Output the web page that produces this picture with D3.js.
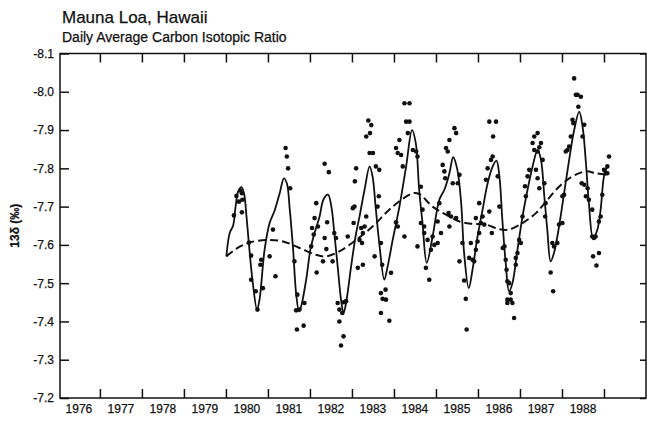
<!DOCTYPE html>
<html>
<head>
<meta charset="utf-8">
<script src="https://cdn.jsdelivr.net/npm/d3@7"></script>
<style>
    body { margin: 0; background: #fff; }
    text { font-family: "Liberation Sans", Arial, Helvetica, sans-serif; fill: #111; stroke: #111; stroke-width: 0.25; }
</style>
</head>
<body>
<div id="chart"></div>
<script>

// tick labels / positions
const yearLabels = [1976, 1977, 1978, 1979, 1980, 1981, 1982, 1983, 1984, 1985, 1986, 1987, 1988];
const yearTicks = [1977, 1978, 1979, 1980, 1981, 1982, 1983, 1984, 1985, 1986, 1987, 1988, 1989];
const deltaTicks = [-8.1, -8.0, -7.9, -7.8, -7.7, -7.6, -7.5, -7.4, -7.3, -7.2];

// solid seasonal fit [year, d13C]
const seasonalFit = [
    [1980.01,-7.570],[1980.09,-7.631],[1980.17,-7.650],[1980.23,-7.700],[1980.29,-7.739],[1980.37,-7.751],
    [1980.43,-7.735],[1980.49,-7.674],[1980.56,-7.587],[1980.64,-7.500],[1980.74,-7.431],[1980.80,-7.457],
    [1980.92,-7.587],[1981.04,-7.657],[1981.16,-7.690],[1981.28,-7.735],[1981.38,-7.774],[1981.45,-7.761],
    [1981.52,-7.692],[1981.60,-7.587],[1981.67,-7.474],[1981.74,-7.426],[1981.79,-7.439],[1981.91,-7.509],
    [1982.01,-7.587],[1982.11,-7.631],[1982.23,-7.674],[1982.32,-7.718],[1982.43,-7.731],[1982.51,-7.700],
    [1982.58,-7.631],[1982.66,-7.544],[1982.74,-7.457],[1982.80,-7.422],[1982.86,-7.448],[1982.98,-7.544],
    [1983.10,-7.631],[1983.18,-7.674],[1983.30,-7.744],[1983.42,-7.805],[1983.49,-7.779],[1983.57,-7.692],
    [1983.65,-7.605],[1983.77,-7.509],[1983.85,-7.544],[1983.97,-7.613],[1984.13,-7.700],[1984.29,-7.805],
    [1984.43,-7.900],[1984.52,-7.866],[1984.60,-7.744],[1984.68,-7.657],[1984.78,-7.553],[1984.92,-7.622],
    [1985.08,-7.718],[1985.20,-7.744],[1985.32,-7.787],[1985.41,-7.829],[1985.51,-7.796],[1985.60,-7.709],
    [1985.67,-7.579],[1985.78,-7.487],[1985.87,-7.535],[1985.99,-7.622],[1986.11,-7.692],[1986.23,-7.761],
    [1986.35,-7.805],[1986.44,-7.820],[1986.51,-7.779],[1986.58,-7.666],[1986.66,-7.553],[1986.74,-7.479],
    [1986.82,-7.500],[1986.94,-7.587],[1987.06,-7.674],[1987.18,-7.744],[1987.30,-7.805],[1987.42,-7.848],
    [1987.50,-7.822],[1987.58,-7.726],[1987.65,-7.640],[1987.73,-7.557],[1987.81,-7.579],[1987.93,-7.648],
    [1988.05,-7.735],[1988.17,-7.822],[1988.29,-7.900],[1988.41,-7.948],[1988.49,-7.909],[1988.57,-7.814],
    [1988.64,-7.709],[1988.74,-7.618],[1988.84,-7.639],[1988.92,-7.692],[1989.00,-7.779],[1989.08,-7.805]
];

// dashed long term trend
const trendFit = [
    [1980.01,-7.570],[1980.25,-7.590],[1980.56,-7.606],[1980.96,-7.613],[1981.36,-7.609],[1981.75,-7.592],
    [1982.15,-7.574],[1982.39,-7.570],[1982.70,-7.583],[1983.10,-7.613],[1983.49,-7.648],[1983.97,-7.700],
    [1984.45,-7.735],[1984.60,-7.733],[1984.92,-7.700],[1985.24,-7.679],[1985.56,-7.661],[1985.87,-7.655],
    [1986.19,-7.653],[1986.51,-7.641],[1986.74,-7.640],[1987.06,-7.657],[1987.38,-7.683],[1987.62,-7.713],
    [1987.93,-7.752],[1988.25,-7.779],[1988.57,-7.792],[1988.81,-7.787],[1989.04,-7.783]
];

// daily averages
const dailyMeans = [
    [1980.19,-7.677],[1980.25,-7.728],[1980.34,-7.742],[1980.38,-7.735],[1980.31,-7.713],[1980.39,-7.718],
    [1980.38,-7.685],[1980.55,-7.606],[1980.60,-7.572],[1980.60,-7.509],[1980.71,-7.479],[1980.75,-7.431],
    [1980.84,-7.561],[1980.88,-7.487],[1980.82,-7.548],[1981.04,-7.570],[1981.12,-7.640],[1981.18,-7.518],
    [1981.42,-7.853],[1981.45,-7.831],[1981.48,-7.800],[1981.53,-7.748],[1981.63,-7.557],[1981.70,-7.470],
    [1981.67,-7.429],[1981.75,-7.431],[1981.87,-7.448],[1981.69,-7.379],[1981.85,-7.389],[1982.03,-7.596],
    [1982.05,-7.644],[1982.09,-7.627],[1982.11,-7.670],[1982.15,-7.709],[1982.16,-7.528],[1982.19,-7.648],
    [1982.31,-7.557],[1982.35,-7.812],[1982.45,-7.790],[1982.35,-7.618],[1982.39,-7.589],[1982.41,-7.659],
    [1982.58,-7.631],[1982.62,-7.618],[1982.54,-7.557],[1982.66,-7.448],[1982.70,-7.431],[1982.77,-7.422],
    [1982.86,-7.453],[1982.80,-7.450],[1982.70,-7.400],[1982.80,-7.361],[1982.74,-7.337],[1982.90,-7.622],
    [1983.02,-7.696],[1983.06,-7.700],[1983.07,-7.766],[1983.10,-7.800],[1983.04,-7.657],[1983.14,-7.540],
    [1983.26,-7.548],[1983.18,-7.613],[1983.22,-7.644],[1983.26,-7.631],[1983.24,-7.605],[1983.30,-7.648],
    [1983.34,-7.674],[1983.34,-7.883],[1983.39,-7.925],[1983.46,-7.913],[1983.43,-7.892],[1983.50,-7.840],
    [1983.42,-7.840],[1983.57,-7.805],[1983.65,-7.796],[1983.64,-7.727],[1983.61,-7.700],[1983.54,-7.570],
    [1983.69,-7.605],[1983.72,-7.548],[1983.93,-7.527],[1983.69,-7.474],[1983.73,-7.459],[1983.80,-7.483],
    [1983.81,-7.457],[1983.69,-7.422],[1983.89,-7.402],[1984.05,-7.853],[1984.09,-7.840],[1984.13,-7.874],
    [1984.17,-7.835],[1984.21,-7.805],[1984.09,-7.648],[1984.05,-7.659],[1984.25,-7.622],[1984.25,-7.970],
    [1984.37,-7.970],[1984.29,-7.922],[1984.37,-7.922],[1984.33,-7.892],[1984.45,-7.848],[1984.53,-7.844],
    [1984.56,-7.831],[1984.56,-7.596],[1984.64,-7.752],[1984.68,-7.692],[1984.64,-7.657],[1984.72,-7.648],
    [1984.80,-7.613],[1984.76,-7.540],[1984.84,-7.509],[1984.92,-7.622],[1984.88,-7.587],[1984.72,-7.631],
    [1984.96,-7.600],[1985.04,-7.605],[1985.04,-7.661],[1985.12,-7.631],[1985.08,-7.709],[1985.16,-7.809],
    [1985.20,-7.792],[1985.22,-7.774],[1985.24,-7.853],[1985.28,-7.844],[1985.32,-7.874],[1985.44,-7.905],
    [1985.48,-7.892],[1985.40,-7.761],[1985.52,-7.761],[1985.56,-7.783],[1985.30,-7.683],[1985.36,-7.674],
    [1985.32,-7.648],[1985.48,-7.670],[1985.56,-7.557],[1985.63,-7.605],[1985.67,-7.507],[1985.71,-7.459],
    [1985.73,-7.379],[1985.79,-7.566],[1985.83,-7.605],[1985.87,-7.561],[1985.91,-7.557],[1985.95,-7.587],
    [1985.99,-7.609],[1986.03,-7.631],[1986.07,-7.657],[1986.11,-7.674],[1985.95,-7.670],[1986.15,-7.653],
    [1986.03,-7.709],[1986.19,-7.770],[1986.23,-7.800],[1986.27,-7.922],[1986.43,-7.922],[1986.36,-7.883],
    [1986.31,-7.822],[1986.35,-7.831],[1986.47,-7.779],[1986.51,-7.700],[1986.33,-7.631],[1986.27,-7.687],
    [1986.59,-7.592],[1986.63,-7.596],[1986.66,-7.561],[1986.68,-7.535],[1986.70,-7.505],[1986.74,-7.500],
    [1986.78,-7.474],[1986.70,-7.457],[1986.78,-7.457],[1986.70,-7.448],[1986.82,-7.448],[1986.86,-7.409],
    [1986.90,-7.566],[1986.94,-7.579],[1986.90,-7.548],[1986.98,-7.613],[1987.02,-7.605],[1987.06,-7.674],
    [1987.12,-7.753],[1987.14,-7.727],[1987.18,-7.779],[1987.22,-7.796],[1987.30,-7.866],[1987.34,-7.883],
    [1987.42,-7.892],[1987.34,-7.848],[1987.42,-7.844],[1987.46,-7.855],[1987.50,-7.866],[1987.54,-7.822],
    [1987.38,-7.796],[1987.42,-7.774],[1987.46,-7.748],[1987.58,-7.761],[1987.61,-7.709],[1987.60,-7.674],
    [1987.77,-7.605],[1987.81,-7.596],[1987.89,-7.605],[1987.73,-7.528],[1987.79,-7.479],[1987.93,-7.653],
    [1988.01,-7.657],[1988.01,-7.727],[1988.05,-7.731],[1988.09,-7.844],[1988.13,-7.848],[1988.17,-7.857],
    [1988.21,-7.883],[1988.25,-7.927],[1988.27,-7.918],[1988.29,-8.035],[1988.33,-7.992],[1988.37,-7.992],
    [1988.45,-7.987],[1988.39,-7.961],[1988.53,-7.914],[1988.49,-7.883],[1988.47,-7.761],[1988.53,-7.757],
    [1988.61,-7.748],[1988.57,-7.727],[1988.64,-7.718],[1988.72,-7.692],[1988.72,-7.622],[1988.76,-7.618],
    [1988.80,-7.622],[1988.88,-7.661],[1988.92,-7.674],[1988.74,-7.570],[1988.88,-7.579],[1988.82,-7.546],
    [1988.96,-7.731],[1989.00,-7.796],[1989.04,-7.787],[1989.08,-7.805],[1989.12,-7.831],[1989.08,-7.787]
];


class IsotopeChart {

    constructor(parentElement) {
        this.parentElement = parentElement;
    }

    initVis() {
        let vis = this;

        vis.width = 647;
        vis.height = 423;
        vis.plot = {left: 60, right: 646, top: 53.5, bottom: 398};

        vis.svg = d3.select("#" + vis.parentElement).append("svg")
            .attr("width", vis.width)
            .attr("height", vis.height);

        // Scales
        vis.x = d3.scaleLinear()
            .domain([1976.05, 1990])
            .range([vis.plot.left, vis.plot.right]);

        vis.y = d3.scaleLinear()
            .domain([-8.1, -7.2])
            .range([vis.plot.top, vis.plot.bottom]);

        // Titles
        vis.svg.append("text")
            .attr("x", 62).attr("y", 23)
            .attr("font-size", 17)
            .text("Mauna Loa, Hawaii");

        vis.svg.append("text")
            .attr("x", 62).attr("y", 42)
            .attr("font-size", 14)
            .text("Daily Average Carbon Isotopic Ratio");

        vis.svg.append("text")
            .attr("transform", "translate(19," + (vis.plot.top + vis.plot.bottom) / 2 + ") rotate(-90)")
            .attr("text-anchor", "middle")
            .attr("font-size", 12)
            .attr("font-weight", "bold")
            .text("13δ (‰)");

        vis.drawAxes();
        vis.updateVis();
    }

    drawAxes() {
        let vis = this;

        let bottom = vis.svg.append("g")
            .attr("transform", "translate(0," + vis.plot.bottom + ")")
            .call(d3.axisBottom(vis.x).tickValues(yearTicks).tickSize(-9).tickFormat(""));

        let top = vis.svg.append("g")
            .attr("transform", "translate(0," + vis.plot.top + ")")
            .call(d3.axisTop(vis.x).tickValues(yearTicks).tickSize(-9).tickFormat(""));

        let left = vis.svg.append("g")
            .attr("transform", "translate(" + vis.plot.left + ",0)")
            .call(d3.axisLeft(vis.y).tickValues(deltaTicks).tickSize(-9).tickPadding(6)
                .tickFormat(d => d.toFixed(1)));

        let right = vis.svg.append("g")
            .attr("transform", "translate(" + vis.plot.right + ",0)")
            .call(d3.axisRight(vis.y).tickValues(deltaTicks).tickSize(-6).tickFormat(""));

        [bottom, top, left, right].forEach(g => {
            g.select(".domain").remove();
            g.selectAll(".tick line").attr("stroke", "#111").attr("stroke-width", 1.5);
        });

        left.selectAll(".tick text")
            .attr("font-size", 12)
            .attr("font-family", "Liberation Sans, Arial, sans-serif")
            .attr("fill", "#111");

        // year labels sit in the middle of each year
        vis.svg.append("g").selectAll("text")
            .data(yearLabels)
            .enter().append("text")
            .attr("x", d => vis.x(d + 0.5))
            .attr("y", 413)
            .attr("text-anchor", "middle")
            .attr("font-size", 12)
            .text(d => d);

        // frame
        vis.svg.append("rect")
            .attr("x", vis.plot.left)
            .attr("y", vis.plot.top)
            .attr("width", vis.plot.right - vis.plot.left)
            .attr("height", vis.plot.bottom - vis.plot.top)
            .attr("fill", "none")
            .attr("stroke", "#111")
            .attr("stroke-width", 1.5);
    }

    updateVis() {
        let vis = this;

        let line = d3.line()
            .curve(d3.curveCatmullRom.alpha(0.5))
            .x(d => vis.x(d[0]))
            .y(d => vis.y(d[1]));

        vis.svg.append("path")
            .datum(trendFit)
            .attr("fill", "none")
            .attr("stroke", "#111")
            .attr("stroke-width", 2)
            .attr("stroke-dasharray", "8,4")
            .attr("d", line);

        vis.svg.append("path")
            .datum(seasonalFit)
            .attr("fill", "none")
            .attr("stroke", "#111")
            .attr("stroke-width", 1.8)
            .attr("d", line);

        vis.svg.append("g").selectAll("circle")
            .data(dailyMeans)
            .enter().append("circle")
            .attr("cx", d => vis.x(d[0]))
            .attr("cy", d => vis.y(d[1]))
            .attr("r", 2.3)
            .attr("fill", "#111");
    }
}

let chart = new IsotopeChart("chart");
chart.initVis();

</script>
</body>
</html>
